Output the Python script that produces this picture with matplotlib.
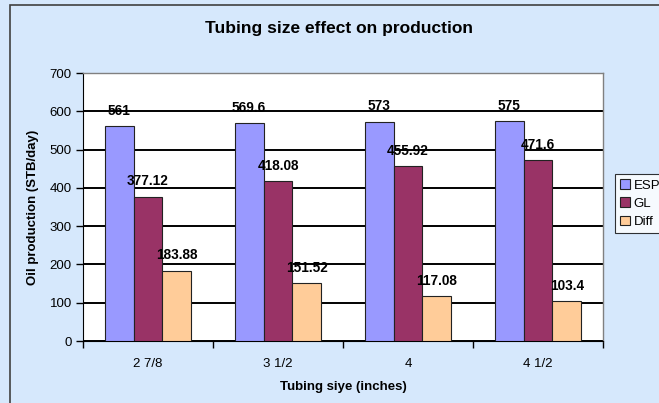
import matplotlib
matplotlib.use("Agg")
import matplotlib.pyplot as plt
import numpy as np
from matplotlib.patches import Rectangle

plt.rcParams['font.family'] = ['Liberation Sans', 'DejaVu Sans']

categories = ["2 7/8", "3 1/2", "4", "4 1/2"]
esp = [561, 569.6, 573, 575]
gl = [377.12, 418.08, 455.92, 471.6]
diff = [183.88, 151.52, 117.08, 103.4]
esp_labels = ["561", "569.6", "573", "575"]
gl_labels = ["377.12", "418.08", "455.92", "471.6"]
diff_labels = ["183.88", "151.52", "117.08", "103.4"]

W, H = 659, 403
fig = plt.figure(figsize=(W / 100, H / 100), dpi=100)
fig.patch.set_facecolor("#d6e8fc")

# chart-area border (runs off the right and bottom edges)
fig.patches.append(Rectangle((10 / W, -0.05), 1.2, 1 - 5 / H + 0.05,
                             transform=fig.transFigure, fill=False,
                             edgecolor="#404040", linewidth=1.2))

ax = fig.add_axes([83 / W, 1 - 341 / H, 520 / W, 268 / H])
ax.set_facecolor("white")

x = np.arange(len(categories))
bw = 0.223
colors = ["#9999ff", "#993366", "#ffcc99"]
series = [("ESP", esp, esp_labels), ("GL", gl, gl_labels), ("Diff", diff, diff_labels)]
for i, (name, vals, labs) in enumerate(series):
    pos = x + (i - 1) * bw
    bars = ax.bar(pos, vals, width=bw, color=colors[i], edgecolor="#222222",
                  linewidth=0.8, label=name, zorder=3)
    for b, v, t in zip(bars, vals, labs):
        ax.annotate(t, (b.get_x() + b.get_width() / 2, v), xytext=(0, 6),
                    textcoords="offset points", ha="center", va="bottom",
                    fontsize=9.8, fontweight="bold", zorder=5)

ax.set_ylim(0, 700)
ax.set_xlim(-0.5, len(categories) - 0.5)
ax.set_yticks(np.arange(0, 701, 100))
ax.yaxis.grid(True, color="black", linewidth=1.4, zorder=1)
ax.set_axisbelow(True)

ax.set_xticks(x)
ax.set_xticklabels(categories, fontsize=9.5)
ax.set_xticks(np.arange(-0.5, len(categories), 1), minor=True)
ax.tick_params(axis="x", which="major", length=0, pad=12)
ax.tick_params(axis="x", which="minor", length=5, width=1, direction="out")
ax.tick_params(axis="y", length=5, width=1, direction="out", labelsize=9.5, pad=3)

for s in ["top", "right"]:
    ax.spines[s].set_color("#808080")
    ax.spines[s].set_linewidth(1.0)
ax.spines["left"].set_color("black")
ax.spines["bottom"].set_color("black")

ax.set_ylabel("Oil production (STB/day)", fontsize=9.5, fontweight="bold", labelpad=8)
ax.set_xlabel("Tubing siye (inches)", fontsize=9.5, fontweight="bold", labelpad=8)

fig.text(339 / W, 1 - 28 / H, "Tubing size effect on production", ha="center",
         va="center", fontsize=12.5, fontweight="bold")

leg = fig.legend(loc="upper left", bbox_to_anchor=(615 / W, 1 - 174 / H),
                 frameon=True, fancybox=False, fontsize=9.5, handlelength=0.7,
                 handleheight=0.7, handletextpad=0.3, labelspacing=0.45,
                 borderpad=0.4, borderaxespad=0)
leg.get_frame().set_edgecolor("black")
leg.get_frame().set_linewidth(0.8)

fig.savefig("out.png", dpi=100, facecolor=fig.get_facecolor())
